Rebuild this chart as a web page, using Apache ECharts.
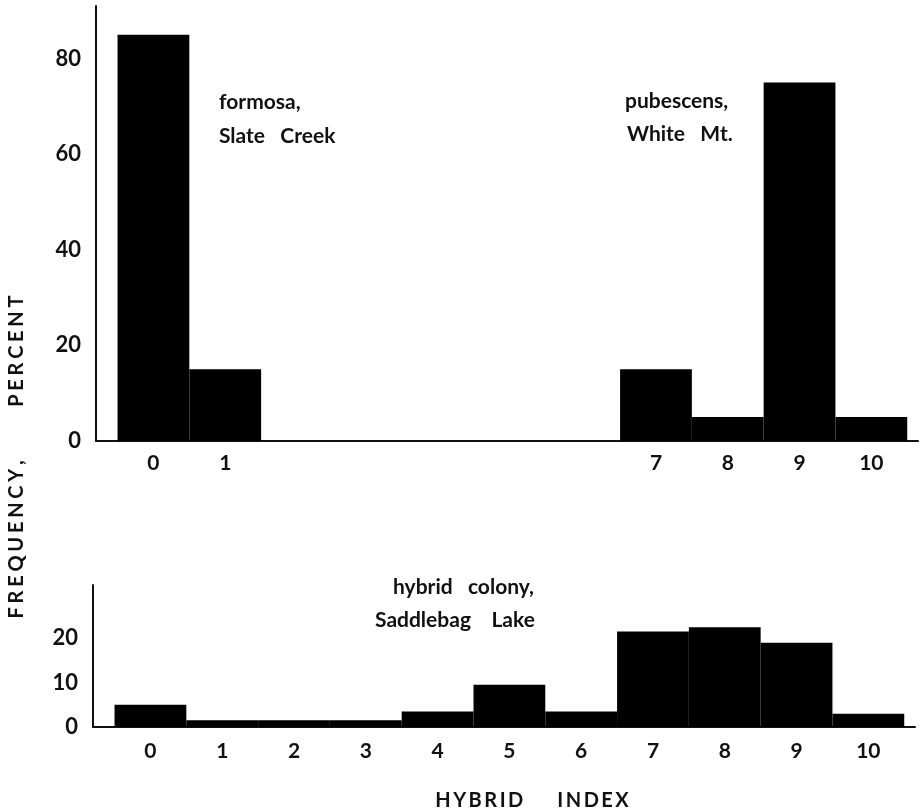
<!DOCTYPE html>
<html>
<head>
<meta charset="utf-8">
<script src="https://cdn.jsdelivr.net/npm/echarts@6/dist/echarts.min.js"></script>
<style>html,body{margin:0;padding:0;background:#fff}#c{width:923px;height:812px}</style>
</head>
<body>
<div id="c"></div>
<script>
// Hybrid index classes
const hybridIndex = [0,1,2,3,4,5,6,7,8,9,10];
// Top panel: parental populations (percent)
const formosaIdx = [0, 1];
const formosaPct = [85, 15];
const pubescensIdx = [7, 8, 9, 10];
const pubescensPct = [15, 5, 75, 5];
const topTickLabels = ['0','1','7','8','9','10'];
// Bottom panel: hybrid colony, Saddlebag Lake (percent)
const hybridPct = [5, 1.5, 1.5, 1.5, 3.5, 9.5, 3.5, 21.5, 22.5, 19, 3];
const bottomTickLabels = ['0','1','2','3','4','5','6','7','8','9','10'];
const topYTicks = [0, 20, 40, 60, 80];
const bottomYTicks = [0, 10, 20];

const chart = echarts.init(document.getElementById('c'), null, {renderer: 'canvas'});
const FONT = 'Lato';
const INK = '#111';
function spaced(s, gap) { return s.split('').join(gap); }
const GAP1 = '\u2009';
const GAP2 = '\u2009\u200A';

function xAxisCfg(gridIndex, labels) {
  return {
    type: 'value', gridIndex: gridIndex, min: -0.8, max: 10.65,
    minInterval: 1, maxInterval: 1, splitNumber: 11,
    axisLine: {show: true, onZero: false, lineStyle: {color: INK, width: 2}},
    axisTick: {show: false}, splitLine: {show: false},
    axisLabel: {
      showMinLabel: false, showMaxLabel: false,
      margin: gridIndex === 0 ? 12 : 14,
      color: INK, fontFamily: FONT, fontWeight: 'bold', fontSize: 21,
      formatter: function (v) {
        const s = String(Math.round(v));
        return (Math.abs(v - Math.round(v)) < 1e-6 && labels.indexOf(s) >= 0) ? s : '';
      }
    }
  };
}
function yAxisCfg(gridIndex, max, interval, ticks) {
  return {
    type: 'value', gridIndex: gridIndex, min: 0, max: max, interval: interval,
    axisLine: {show: true, onZero: false, lineStyle: {color: INK, width: 2}},
    axisTick: {show: false}, splitLine: {show: false},
    axisLabel: {
      showMaxLabel: false, margin: 15,
      color: INK, fontFamily: FONT, fontWeight: 'bold', fontSize: 22,
      formatter: function (v) { return ticks.indexOf(v) >= 0 ? String(v) : ''; }
    }
  };
}
const barStyle = {color: '#000'};
const annFont = 'bold 21px Lato';

chart.setOption({
  backgroundColor: '#fff',
  animation: false,
  grid: [
    {left: 96, right: 5, top: 6, bottom: 371},
    {left: 93, right: 8, top: 585, bottom: 85}
  ],
  xAxis: [xAxisCfg(0, topTickLabels), xAxisCfg(1, bottomTickLabels)],
  yAxis: [yAxisCfg(0, 91, 20, topYTicks), yAxisCfg(1, 32, 10, bottomYTicks)],
  series: [
    {type: 'bar', xAxisIndex: 0, yAxisIndex: 0, barWidth: '100%', itemStyle: barStyle,
     data: formosaIdx.map((x, i) => [x, formosaPct[i]])},
    {type: 'bar', xAxisIndex: 0, yAxisIndex: 0, barWidth: '100%', barGap: '-100%', itemStyle: barStyle,
     data: pubescensIdx.map((x, i) => [x, pubescensPct[i]])},
    {type: 'bar', xAxisIndex: 1, yAxisIndex: 1, barWidth: '100%', itemStyle: barStyle,
     data: hybridIndex.map((x, i) => [x, hybridPct[i]])}
  ],
  graphic: [
    {type: 'text', left: 219, top: 92, style: {text: 'formosa,', font: annFont, fill: INK}},
    {type: 'text', left: 219, top: 126, style: {text: 'Slate   Creek', font: annFont, fill: INK}},
    {type: 'text', left: 625, top: 91, style: {text: 'pubescens,', font: annFont, fill: INK}},
    {type: 'text', left: 627, top: 124, style: {text: 'White   Mt.', font: annFont, fill: INK}},
    {type: 'text', left: 393, top: 577, style: {text: 'hybrid   colony,', font: annFont, fill: INK}},
    {type: 'text', left: 375, top: 610, style: {text: 'Saddlebag    Lake', font: annFont, fill: INK}},
    {type: 'text', x: 17, y: 457, rotation: Math.PI / 2,
     style: {text: spaced('FREQUENCY,', GAP2) + '           ' + spaced('PERCENT', GAP2), font: 'bold 20px Lato', fill: INK,
             textAlign: 'center', textVerticalAlign: 'middle'}},
    {type: 'text', x: 532, y: 801,
     style: {text: spaced('HYBRID', GAP1) + '       ' + spaced('INDEX', GAP1), font: 'bold 20px Lato', fill: INK,
             textAlign: 'center', textVerticalAlign: 'middle'}}
  ]
});
</script>
</body>
</html>
